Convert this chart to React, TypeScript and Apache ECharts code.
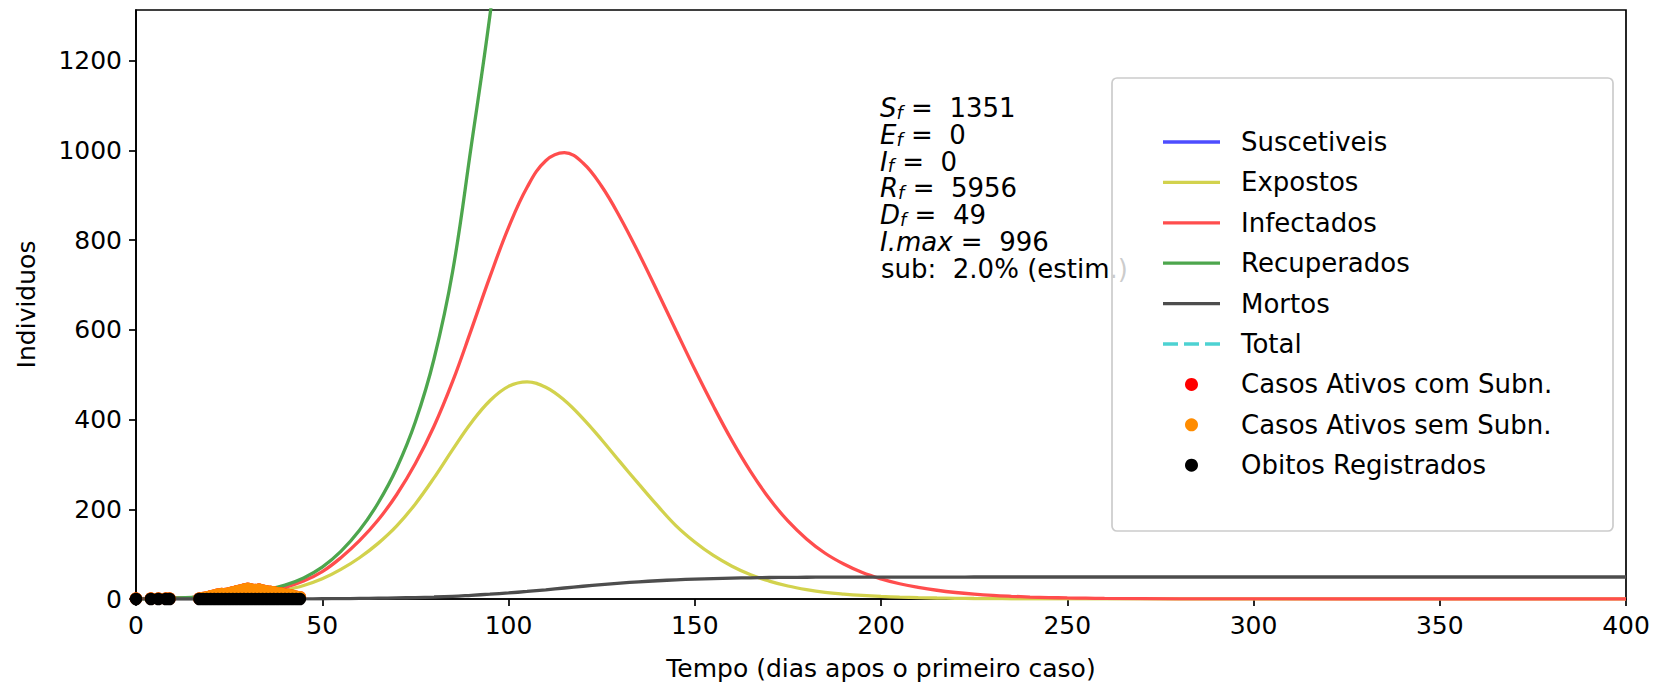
import React, { useEffect, useRef } from "react";
import * as echarts from "echarts";

// ---- model curve data (days after first case) ----
const modelDays = [0, 5, 10, 15, 20, 25, 30, 35, 40, 45, 50, 55, 60, 65, 70, 75, 80, 85, 90, 95, 100, 105, 110, 115, 120, 125, 130, 135, 140, 145, 150, 155, 160, 165, 170, 175, 180, 185, 190, 195, 200, 205, 210, 215, 220, 225, 230, 235, 240, 245, 250, 255, 260, 280, 300, 350, 400];
const suscetiveis = [7355, 7354, 7353, 7351, 7348, 7343, 7335, 7323, 7305, 7280, 7240, 7180, 7100, 6990, 6850, 6660, 6420, 6110, 5720, 5260, 4760, 4250, 3760, 3320, 2930, 2600, 2330, 2110, 1940, 1800, 1700, 1620, 1560, 1510, 1475, 1450, 1430, 1415, 1400, 1390, 1382, 1376, 1371, 1367, 1364, 1362, 1360, 1358, 1357, 1356, 1355, 1354, 1354, 1352, 1351, 1351, 1351];
const expostos = [0.7, 1, 1.5, 2.3, 3.5, 5.2, 8, 12, 19.5, 30, 45, 66, 92, 124, 163, 212, 270, 333, 393, 442, 474, 484, 472, 443, 402, 355, 305, 256, 208, 163, 127, 97, 73, 54, 40, 29, 21, 15, 11, 8, 5.8, 4.2, 3, 2.2, 1.6, 1.15, 0.8, 0.6, 0.45, 0.3, 0.22, 0.16, 0.12, 0.04, 0.01, 0, 0];
const infectados = [1, 1.5, 2.2, 3.3, 5, 7.5, 11.5, 17, 26, 40, 61, 92, 130, 176, 233, 302, 385, 485, 600, 718, 828, 918, 977, 995, 972, 920, 850, 770, 685, 598, 512, 430, 353, 284, 224, 174, 134, 102, 78, 59, 45, 34, 26, 19.5, 14.5, 10.8, 8, 6, 4.4, 3.2, 2.4, 1.8, 1.3, 0.35, 0.1, 0, 0];
const recuperados = [0, 1, 2.2, 3.7, 6, 9, 14, 21, 31, 47, 71, 106, 153, 214, 292, 395, 535, 730, 1010, 1300, 1640, 2020, 2420, 2830, 3230, 3610, 3960, 4270, 4540, 4770, 4960, 5120, 5250, 5360, 5450, 5530, 5600, 5660, 5710, 5750, 5785, 5815, 5840, 5860, 5877, 5891, 5903, 5913, 5922, 5929, 5935, 5940, 5944, 5953, 5955, 5956, 5956];
const mortos = [0, 0, 0, 0.03, 0.05, 0.07, 0.1, 0.17, 0.25, 0.39, 0.58, 0.87, 1.26, 1.76, 2.4, 3.25, 4.4, 6, 8.3, 10.7, 13.5, 16.8, 20.5, 24.5, 28.4, 32, 35.4, 38.3, 40.7, 42.7, 44.4, 45.6, 46.6, 47.3, 47.9, 48.2, 48.5, 48.6, 48.7, 48.8, 48.85, 48.9, 48.9, 48.95, 48.95, 49, 49, 49, 49, 49, 49, 49, 49, 49, 49, 49, 49];
const totalDays = [0, 400];
const totalValues = [7356, 7356];

// ---- observed data ----
const obsDays = [0, 4, 6, 8, 9, 17, 18, 19, 20, 21, 22, 23, 24, 25, 26, 27, 28, 29, 30, 31, 32, 33, 34, 35, 36, 37, 38, 39, 40, 41, 42, 43, 44];
const ativosSemSubn = [1, 1, 1, 1, 1, 1, 2, 4, 6, 8, 10, 11, 11, 13, 15, 17, 19, 21, 23, 21, 20, 21, 19, 17, 16, 15, 13, 12, 10, 9, 7, 5, 4];
const ativosComSubn = [1, 1, 1, 1, 1, 1, 2, 4, 6, 8, 10, 11, 11, 13, 15, 17, 19, 21, 23, 21, 20, 21, 19, 17, 16, 15, 13, 12, 10, 9, 7, 5, 4];
const obitosRegistrados = [0, 0, 0, 0, 0, 0, 0, 0, 0, 0, 0, 0, 0, 0, 0, 0, 0, 0, 0, 0, 0, 0, 0, 0, 0, 0, 0, 0, 0, 0, 0, 0, 0];

// ---- ticks ----
const xTicks = [0, 50, 100, 150, 200, 250, 300, 350, 400];
const yTicks = [0, 200, 400, 600, 800, 1000, 1200];

// ---- annotation ----
const annotationLines = [
  { sym: "S", sub: "f", val: "1351" },
  { sym: "E", sub: "f", val: "0" },
  { sym: "I", sub: "f", val: "0" },
  { sym: "R", sub: "f", val: "5956" },
  { sym: "D", sub: "f", val: "49" },
  { sym: "I.max", sub: "", val: "996" },
];
const subLine = "sub:  2.0% (estim.)";

const FONT = "DejaVu Sans";
const LINE_ICON = "path://M0,0H57V3.3H0Z";
const DASH_ICON = "path://M0,0H15V3.3H0Z M21,0H36V3.3H21Z M42,0H57V3.3H42Z";

function pairs(xs: number[], ys: number[]) {
  return xs.map((x, i) => [x, ys[i]]);
}

export default function App() {
  const ref = useRef<HTMLDivElement>(null);
  useEffect(() => {
    if (!ref.current) return;
    const chart = echarts.init(ref.current, null, { renderer: "svg" });

    const lineSeries = (name: string, data: number[][], color: string, dashed = false) => ({
      type: "line",
      name,
      data,
      symbol: "none",
      showSymbol: false,
      smooth: 0.4,
      clip: true,
      lineStyle: { color, width: 3.3, type: dashed ? [11, 5] : "solid" },
      itemStyle: { color },
      z: 2,
    });
    const scatterSeries = (name: string, data: number[][], color: string) => ({
      type: "scatter",
      name,
      data,
      symbol: "circle",
      symbolSize: 12.5,
      clip: true,
      itemStyle: { color, opacity: 1 },
      z: 3,
    });

    const graphics: any[] = [];
    const baseY = 108.3;
    const step = 26.7;
    annotationLines.forEach((l, i) => {
      graphics.push({
        type: "text",
        x: 880,
        y: baseY + i * step,
        z: 5,
        style: {
          text: `{it|${l.sym}}` + (l.sub ? `{sb|${l.sub}}` : "") + `{n| =  ${l.val}}`,
          verticalAlign: "middle",
          align: "left",
          fill: "#000",
          rich: {
            it: { fontFamily: FONT, fontStyle: "italic", fontSize: 26, lineHeight: 26, fill: "#000", verticalAlign: "middle" },
            sb: { fontFamily: FONT, fontStyle: "italic", fontSize: 18, lineHeight: 14, fill: "#000", verticalAlign: "bottom" },
            n: { fontFamily: FONT, fontSize: 26, lineHeight: 26, fill: "#000", verticalAlign: "middle" },
          },
        },
      });
    });
    graphics.push({
      type: "text",
      x: 881,
      y: baseY + annotationLines.length * step,
      z: 5,
      style: { text: subLine, fontFamily: FONT, fontSize: 26, fill: "#000", verticalAlign: "middle", align: "left" },
    });
    // legend frame (semi-transparent, drawn over the annotation like the original)
    graphics.push({
      type: "rect",
      z: 6,
      shape: { x: 1112, y: 78, width: 501, height: 453, r: 5 },
      style: { fill: "rgba(255,255,255,0.8)", stroke: "#cccccc", lineWidth: 1.7 },
    });

    const legendNames = [
      "Suscetiveis",
      "Expostos",
      "Infectados",
      "Recuperados",
      "Mortos",
      "Total",
      "Casos Ativos com Subn.",
      "Casos Ativos sem Subn.",
      "Obitos Registrados",
    ];
    const legendData = legendNames.map((n, i) =>
      i < 5 ? { name: n, icon: LINE_ICON } : i === 5 ? { name: n, icon: DASH_ICON } : { name: n }
    );

    const option: any = {
      animation: false,
      backgroundColor: "#fff",
      grid: { left: 136, right: 38, top: 10, bottom: 86, show: true, borderColor: "#000", borderWidth: 1.7, backgroundColor: "transparent" },
      xAxis: {
        type: "value",
        min: 0,
        max: 400,
        interval: 50,
        name: "Tempo (dias apos o primeiro caso)",
        nameLocation: "middle",
        nameGap: 57,
        nameTextStyle: { fontFamily: FONT, fontSize: 25, color: "#000" },
        axisLine: { show: true, lineStyle: { color: "#000", width: 1.7 } },
        axisTick: { show: true, length: 7, lineStyle: { color: "#000", width: 1.7 }, customValues: xTicks },
        axisLabel: { fontFamily: FONT, fontSize: 25, color: "#000", margin: 14, customValues: xTicks, formatter: (v: number) => String(v) },
        splitLine: { show: false },
      },
      yAxis: {
        type: "value",
        min: 0,
        max: 1313,
        interval: 200,
        name: "Individuos",
        nameLocation: "middle",
        nameGap: 97,
        nameRotate: 90,
        nameTextStyle: { fontFamily: FONT, fontSize: 25, color: "#000" },
        axisLine: { show: true, lineStyle: { color: "#000", width: 1.7 } },
        axisTick: { show: true, length: 7, lineStyle: { color: "#000", width: 1.7 }, customValues: yTicks },
        axisLabel: { fontFamily: FONT, fontSize: 25, color: "#000", margin: 14, customValues: yTicks, formatter: (v: number) => String(v) },
        splitLine: { show: false },
      },
      legend: {
        orient: "vertical",
        left: 1163,
        top: 128,
        padding: 0,
        itemWidth: 57,
        itemHeight: 13,
        itemGap: 12.4,
        selectedMode: false,
        z: 7,
        itemStyle: { borderWidth: 0 },
        textStyle: { fontFamily: FONT, fontSize: 26, color: "#000", lineHeight: 28, padding: [0, 0, 0, 16] },
        data: legendData,
      },
      graphic: graphics,
      series: [
        lineSeries("Suscetiveis", pairs(modelDays, suscetiveis), "#4d4dff"),
        lineSeries("Expostos", pairs(modelDays, expostos), "#d2d24d"),
        lineSeries("Infectados", pairs(modelDays, infectados), "#ff4d4d"),
        lineSeries("Recuperados", pairs(modelDays, recuperados), "#4da64d"),
        lineSeries("Mortos", pairs(modelDays, mortos), "#4d4d4d"),
        lineSeries("Total", pairs(totalDays, totalValues), "#4dd2d2", true),
        scatterSeries("Casos Ativos com Subn.", pairs(obsDays, ativosComSubn), "#ff0000"),
        scatterSeries("Casos Ativos sem Subn.", pairs(obsDays, ativosSemSubn), "#ff8c00"),
        scatterSeries("Obitos Registrados", pairs(obsDays, obitosRegistrados), "#000000"),
      ],
    };
    chart.setOption(option);
    return () => chart.dispose();
  }, []);

  return (
    <div
      ref={ref}
      style={{ position: "fixed", left: 0, top: 0, width: 1664, height: 686, background: "#fff" }}
    />
  );
}
